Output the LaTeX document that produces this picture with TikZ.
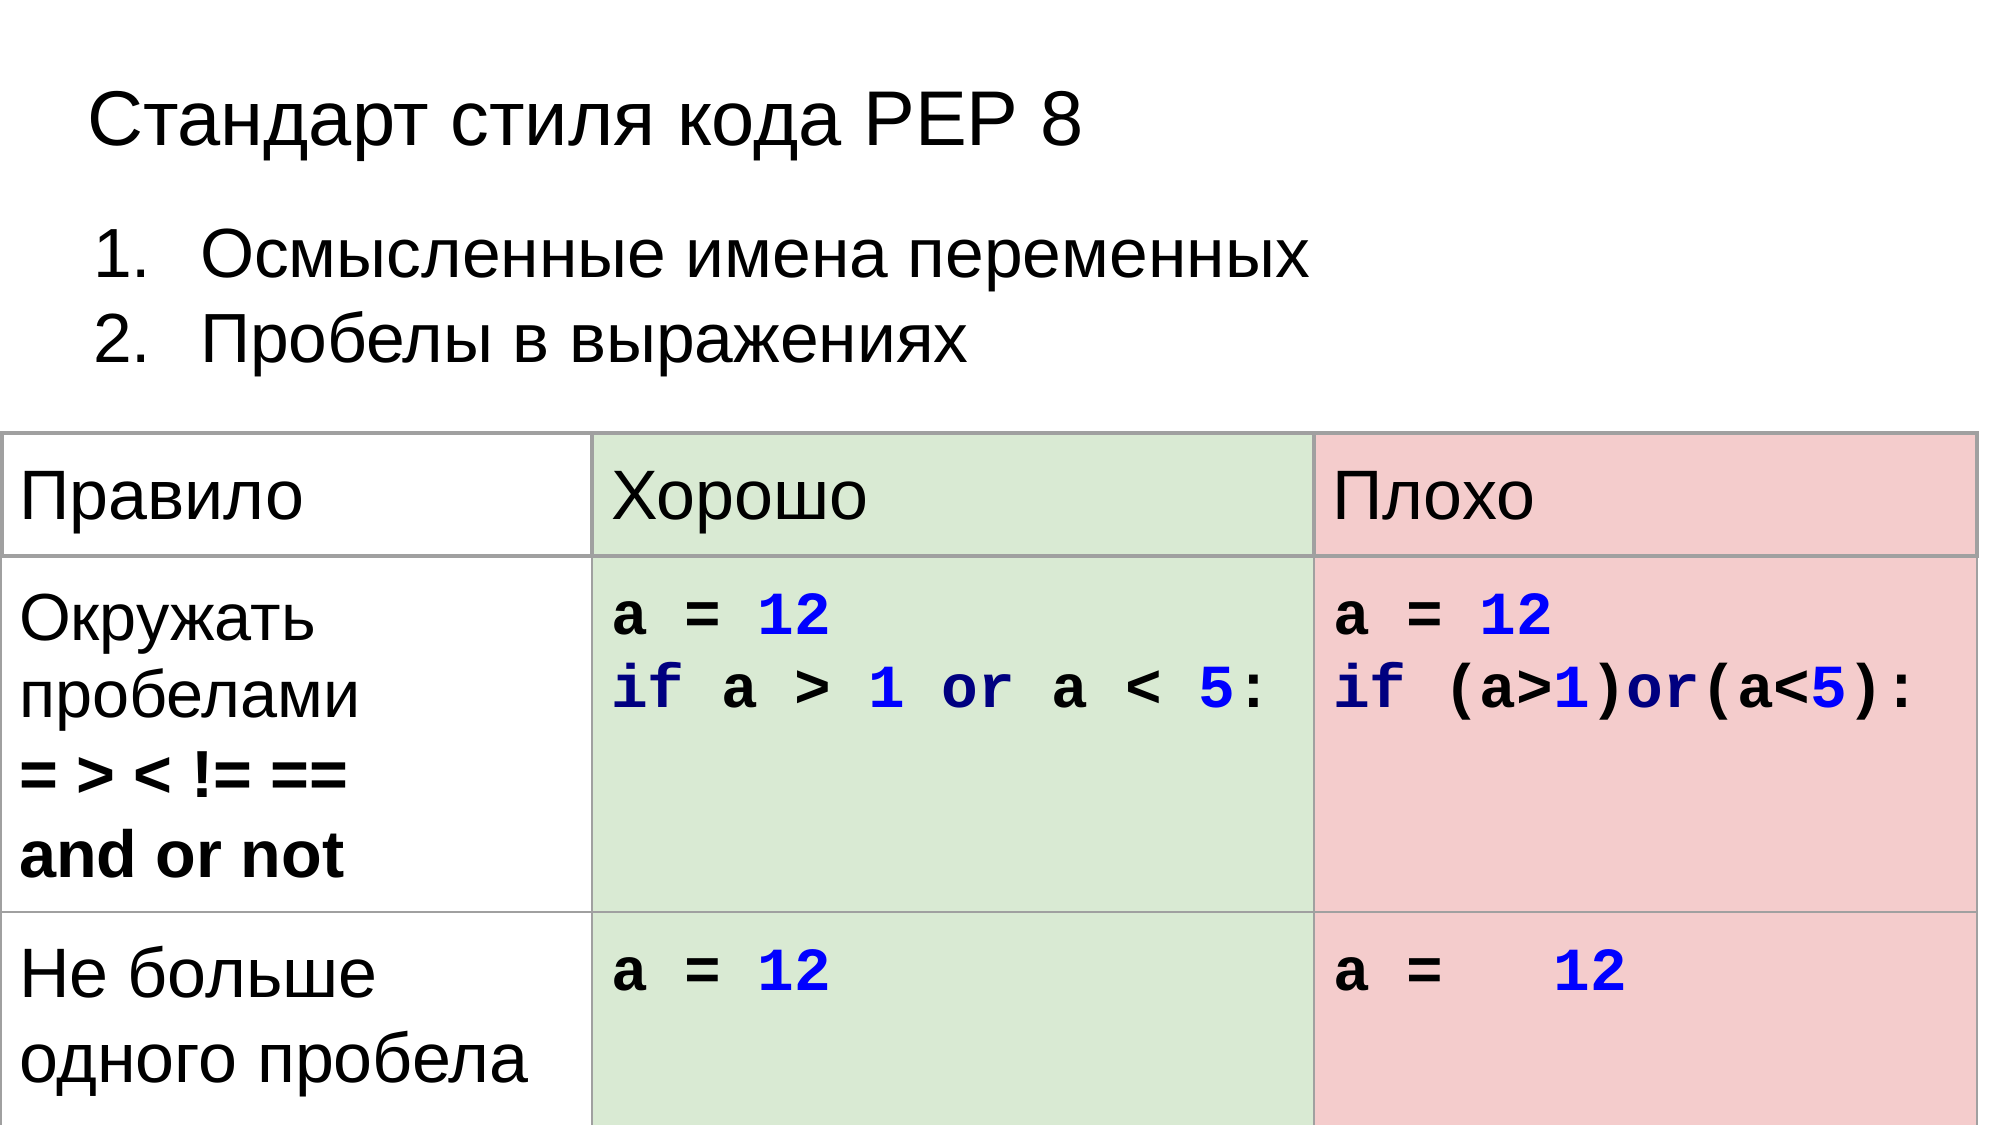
\documentclass[tikz,border=0pt]{standalone}
\usepackage{fontspec}
\setmainfont{Liberation Sans}
\newfontfamily\codefont{Liberation Mono}
\definecolor{goodfill}{HTML}{D9EAD3}
\definecolor{badfill}{HTML}{F4CCCC}
\definecolor{gridcol}{HTML}{A0A0A0}
\definecolor{kwcol}{HTML}{000080}
\definecolor{numcol}{HTML}{0000FF}
\newcommand\codekw[1]{\textcolor{kwcol}{#1}}
\newcommand\codenum[1]{\textcolor{numcol}{#1}}
\tikzset{
  txt/.style={anchor=base west, inner sep=0pt, outer sep=0pt, font=\fontsize{35}{42}\selectfont},
  smalltxt/.style={txt, font=\fontsize{33.3}{40}\selectfont},
  boldtxt/.style={txt, font=\fontsize{33.3}{40}\selectfont\bfseries},
  titletxt/.style={txt, font=\fontsize{38.8}{47}\selectfont},
  listtxt/.style={txt, font=\fontsize{34.8}{42}\selectfont},
  codetxt/.style={txt, font=\codefont\bfseries\fontsize{30.6}{37}\selectfont},
  thickgrid/.style={draw=gridcol, line width=2pt},
  thingrid/.style={draw=gridcol, line width=0.75pt}
}
\begin{document}
\begin{tikzpicture}[x=0.5pt,y=-0.5pt]
\useasboundingbox (0,0) rectangle (2000,1125);
\fill[white] (0,0) rectangle (2000,1125);

% title and list
\node[titletxt] (title) at (87,145) {Стандарт стиля кода PEP 8};
\node[listtxt] (n1) at (93,277) {1.};
\node[listtxt] (l1) at (200,277) {Осмысленные имена переменных};
\node[listtxt] (n2) at (93,362) {2.};
\node[listtxt] (l2) at (200,362) {Пробелы в выражениях};

% table fills
\fill[goodfill] (592,433) rectangle (1314,1125);
\fill[badfill] (1314,433) rectangle (1977,1125);

% body grid
\draw[thingrid] (1,556) -- (1,1125);
\draw[thingrid] (592,556) -- (592,1125);
\draw[thingrid] (1314,556) -- (1314,1125);
\draw[thingrid] (1977,556) -- (1977,1125);
\draw[thingrid] (1,912) -- (1977,912);

% header grid
\draw[thickgrid] (2,433) rectangle (592,556);
\draw[thickgrid] (592,433) rectangle (1314,556);
\draw[thickgrid] (1314,433) rectangle (1977,556);

% header text
\node[txt] (h1) at (19,519) {Правило};
\node[txt] (h2) at (611,519) {Хорошо};
\node[txt] (h3) at (1332,519) {Плохо};

% row 1
\node[smalltxt] (r1a) at (19,640) {Окружать};
\node[smalltxt] (r1b) at (19,717) {пробелами};
\node[boldtxt] (r1c) at (19,797) {= > < != ==};
\node[boldtxt] (r1d) at (19,877) {and or not};

\node[codetxt] (g1a) at (611,634) {a = \codenum{12}};
\node[codetxt] (g1b) at (611,707) {\codekw{if} a > \codenum{1} \codekw{or} a < \codenum{5}:};
\node[codetxt] (b1a) at (1333,634) {a = \codenum{12}};
\node[codetxt] (b1b) at (1333,707) {\codekw{if} (a>\codenum{1})\codekw{or}(a<\codenum{5}):};

% row 2
\node[txt] (r2a) at (19,997) {Не больше};
\node[txt] (r2b) at (19,1082) {одного пробела};
\node[codetxt] (g2a) at (611,990) {a = \codenum{12}};
\node[codetxt] (b2a) at (1333,990) {a =\ \ \ \codenum{12}};
\end{tikzpicture}
\end{document}
